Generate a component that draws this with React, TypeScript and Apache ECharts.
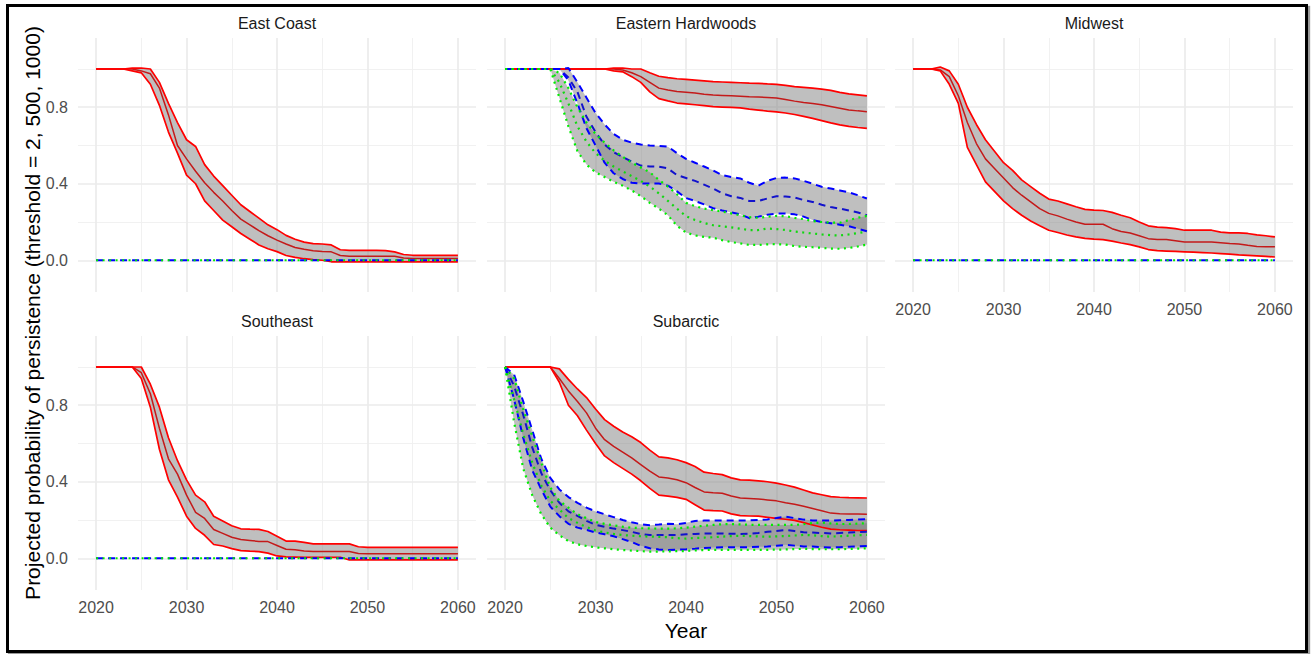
import React, { useEffect, useRef } from "react";
import * as echarts from "echarts";

// ---------- data ----------
const YEARS = [2020, 2021, 2022, 2023, 2024, 2025, 2026, 2027, 2028, 2029, 2030, 2031, 2032, 2033, 2034, 2035, 2036, 2037, 2038, 2039, 2040, 2041, 2042, 2043, 2044, 2045, 2046, 2047, 2048, 2049, 2050, 2051, 2052, 2053, 2054, 2055, 2056, 2057, 2058, 2059, 2060];

const X_LABELS = [2020, 2030, 2040, 2050, 2060];
const X_MINOR = [2025, 2035, 2045, 2055];
const Y_LABELS = [0, 0.4, 0.8];
const Y_MINOR = [0.2, 0.6, 1.0];

const ZERO_YEARS = [2020, 2060];
const ZERO_VALUES = [0, 0];

// East Coast
const EC_RED_UP = [1, 1, 1, 1, 1.005, 1.005, 1, 0.93, 0.82, 0.72, 0.63, 0.595, 0.5, 0.44, 0.39, 0.34, 0.29, 0.255, 0.22, 0.185, 0.16, 0.13, 0.11, 0.095, 0.087, 0.085, 0.08, 0.055, 0.052, 0.052, 0.052, 0.052, 0.05, 0.044, 0.03, 0.026, 0.026, 0.026, 0.026, 0.026, 0.026];
const EC_RED_MID = [1, 1, 1, 1, 1, 0.99, 0.975, 0.9, 0.76, 0.6, 0.53, 0.465, 0.405, 0.355, 0.31, 0.26, 0.215, 0.185, 0.155, 0.128, 0.105, 0.085, 0.067, 0.057, 0.05, 0.046, 0.044, 0.025, 0.021, 0.021, 0.021, 0.021, 0.021, 0.021, 0.012, 0.009, 0.009, 0.009, 0.009, 0.009, 0.009];
const EC_RED_LO = [1, 1, 1, 1, 0.99, 0.98, 0.92, 0.81, 0.67, 0.56, 0.445, 0.4, 0.31, 0.26, 0.21, 0.175, 0.14, 0.11, 0.08, 0.06, 0.045, 0.025, 0.015, 0.008, 0.003, 0, -0.008, -0.009, -0.009, -0.009, -0.009, -0.009, -0.009, -0.009, -0.009, -0.009, -0.009, -0.009, -0.009, -0.009, -0.009];

// Eastern Hardwoods
const EH_RED_UP = [1, 1, 1, 1, 1, 1, 1, 1, 1, 1, 1, 1, 1.005, 1.005, 1, 1, 0.98, 0.962, 0.955, 0.949, 0.946, 0.942, 0.938, 0.934, 0.932, 0.93, 0.928, 0.926, 0.925, 0.922, 0.92, 0.914, 0.908, 0.904, 0.9, 0.895, 0.888, 0.878, 0.87, 0.865, 0.859];
const EH_RED_MID = [1, 1, 1, 1, 1, 1, 1, 1, 1, 1, 1, 1, 1, 0.995, 0.98, 0.96, 0.93, 0.9, 0.89, 0.882, 0.878, 0.874, 0.868, 0.864, 0.862, 0.86, 0.858, 0.855, 0.853, 0.851, 0.848, 0.84, 0.832, 0.825, 0.82, 0.813, 0.804, 0.795, 0.786, 0.781, 0.777];
const EH_RED_LO = [1, 1, 1, 1, 1, 1, 1, 1, 1, 1, 1, 1, 0.99, 0.985, 0.96, 0.93, 0.88, 0.845, 0.833, 0.822, 0.818, 0.813, 0.808, 0.803, 0.801, 0.799, 0.797, 0.79, 0.785, 0.78, 0.776, 0.77, 0.762, 0.752, 0.742, 0.73, 0.718, 0.708, 0.7, 0.694, 0.689];
const EH_BLUE_UP = [1, 1, 1, 1, 1, 1, 1, 1.005, 0.93, 0.85, 0.77, 0.71, 0.66, 0.63, 0.615, 0.605, 0.6, 0.597, 0.594, 0.56, 0.53, 0.51, 0.49, 0.47, 0.445, 0.435, 0.428, 0.405, 0.39, 0.415, 0.43, 0.432, 0.428, 0.415, 0.4, 0.384, 0.375, 0.365, 0.355, 0.34, 0.323];
const EH_BLUE_MID = [1, 1, 1, 1, 1, 1, 1, 0.955, 0.88, 0.75, 0.67, 0.605, 0.565, 0.54, 0.515, 0.495, 0.49, 0.489, 0.48, 0.445, 0.43, 0.415, 0.395, 0.375, 0.35, 0.335, 0.326, 0.31, 0.31, 0.323, 0.335, 0.333, 0.328, 0.315, 0.305, 0.29, 0.278, 0.27, 0.26, 0.25, 0.236];
const EH_BLUE_LO = [1, 1, 1, 1, 1, 1, 1, 0.94, 0.82, 0.69, 0.6, 0.51, 0.455, 0.425, 0.405, 0.401, 0.401, 0.401, 0.39, 0.36, 0.325, 0.31, 0.292, 0.272, 0.26, 0.25, 0.24, 0.22, 0.228, 0.238, 0.244, 0.244, 0.24, 0.228, 0.21, 0.2, 0.194, 0.186, 0.178, 0.165, 0.152];
const EH_GREEN_UP = [1, 1, 1, 1, 1, 1, 0.98, 0.9, 0.8, 0.72, 0.66, 0.615, 0.575, 0.541, 0.51, 0.485, 0.46, 0.42, 0.385, 0.345, 0.3, 0.283, 0.27, 0.262, 0.255, 0.245, 0.235, 0.225, 0.222, 0.228, 0.232, 0.23, 0.222, 0.215, 0.205, 0.2, 0.197, 0.196, 0.21, 0.222, 0.232];
const EH_GREEN_MID = [1, 1, 1, 1, 1, 1, 0.93, 0.82, 0.7, 0.62, 0.56, 0.52, 0.49, 0.465, 0.44, 0.415, 0.385, 0.35, 0.31, 0.27, 0.23, 0.21, 0.195, 0.183, 0.178, 0.172, 0.165, 0.158, 0.158, 0.166, 0.163, 0.158, 0.15, 0.145, 0.14, 0.135, 0.131, 0.13, 0.135, 0.142, 0.15];
const EH_GREEN_LO = [1, 1, 1, 1, 1, 1, 0.85, 0.7, 0.57, 0.5, 0.46, 0.435, 0.41, 0.39, 0.365, 0.335, 0.3, 0.27, 0.235, 0.18, 0.145, 0.13, 0.122, 0.118, 0.105, 0.095, 0.088, 0.08, 0.08, 0.083, 0.084, 0.082, 0.074, 0.07, 0.068, 0.065, 0.061, 0.06, 0.064, 0.072, 0.082];

// Midwest
const MW_RED_UP = [1, 1, 1, 1.01, 0.99, 0.92, 0.8, 0.71, 0.63, 0.57, 0.51, 0.47, 0.42, 0.385, 0.35, 0.32, 0.31, 0.295, 0.28, 0.266, 0.262, 0.26, 0.25, 0.235, 0.222, 0.2, 0.18, 0.173, 0.171, 0.165, 0.157, 0.157, 0.157, 0.157, 0.147, 0.143, 0.143, 0.14, 0.133, 0.128, 0.122];
const MW_RED_MID = [1, 1, 1, 0.995, 0.96, 0.86, 0.72, 0.61, 0.53, 0.48, 0.43, 0.38, 0.34, 0.305, 0.27, 0.245, 0.232, 0.215, 0.2, 0.188, 0.188, 0.188, 0.165, 0.15, 0.142, 0.128, 0.113, 0.108, 0.108, 0.102, 0.096, 0.096, 0.096, 0.096, 0.092, 0.088, 0.085, 0.078, 0.072, 0.071, 0.07];
const MW_RED_LO = [1, 1, 1, 0.99, 0.92, 0.82, 0.59, 0.5, 0.41, 0.36, 0.31, 0.27, 0.235, 0.205, 0.18, 0.157, 0.145, 0.132, 0.122, 0.114, 0.11, 0.108, 0.1, 0.09, 0.082, 0.07, 0.056, 0.05, 0.048, 0.046, 0.044, 0.042, 0.04, 0.038, 0.035, 0.032, 0.028, 0.026, 0.023, 0.02, 0.017];

// Southeast
const SE_RED_UP = [1, 1, 1, 1, 1, 1, 0.91, 0.79, 0.63, 0.51, 0.41, 0.33, 0.295, 0.22, 0.195, 0.17, 0.154, 0.152, 0.151, 0.14, 0.115, 0.09, 0.09, 0.083, 0.075, 0.075, 0.075, 0.075, 0.075, 0.06, 0.057, 0.057, 0.057, 0.057, 0.057, 0.057, 0.057, 0.057, 0.057, 0.057, 0.057];
const SE_RED_MID = [1, 1, 1, 1, 1, 0.97, 0.86, 0.68, 0.52, 0.44, 0.33, 0.24, 0.208, 0.15, 0.13, 0.11, 0.098, 0.093, 0.088, 0.087, 0.067, 0.047, 0.044, 0.038, 0.035, 0.035, 0.035, 0.035, 0.035, 0.025, 0.023, 0.023, 0.023, 0.023, 0.023, 0.023, 0.023, 0.023, 0.023, 0.023, 0.023];
const SE_RED_LO = [1, 1, 1, 1, 1, 0.94, 0.79, 0.57, 0.41, 0.32, 0.22, 0.156, 0.12, 0.072, 0.064, 0.05, 0.04, 0.037, 0.035, 0.027, 0.012, 0.007, 0.006, 0.005, 0.005, 0.005, 0.005, 0.005, -0.009, -0.009, -0.009, -0.009, -0.009, -0.009, -0.009, -0.009, -0.009, -0.009, -0.009, -0.009, -0.009];

// Subarctic
const SA_RED_UP = [1, 1, 1, 1, 1, 1, 0.99, 0.935, 0.885, 0.84, 0.78, 0.725, 0.69, 0.66, 0.635, 0.605, 0.565, 0.53, 0.525, 0.515, 0.5, 0.48, 0.45, 0.443, 0.437, 0.42, 0.41, 0.408, 0.405, 0.4, 0.393, 0.383, 0.372, 0.357, 0.342, 0.332, 0.322, 0.319, 0.317, 0.316, 0.315];
const SA_RED_MID = [1, 1, 1, 1, 1, 1, 0.94, 0.875, 0.82, 0.76, 0.68, 0.62, 0.585, 0.555, 0.525, 0.49, 0.455, 0.425, 0.42, 0.41, 0.395, 0.37, 0.347, 0.343, 0.34, 0.325, 0.315, 0.313, 0.31, 0.305, 0.3, 0.29, 0.282, 0.272, 0.26, 0.248, 0.236, 0.233, 0.232, 0.231, 0.23];
const SA_RED_LO = [1, 1, 1, 1, 1, 1, 0.92, 0.8, 0.745, 0.67, 0.6, 0.535, 0.5, 0.47, 0.44, 0.405, 0.365, 0.33, 0.325, 0.318, 0.308, 0.28, 0.252, 0.249, 0.247, 0.232, 0.223, 0.221, 0.22, 0.214, 0.208, 0.204, 0.198, 0.186, 0.174, 0.162, 0.152, 0.149, 0.147, 0.145, 0.144];
const SA_BLUE_UP = [1, 0.96, 0.82, 0.67, 0.52, 0.42, 0.36, 0.32, 0.29, 0.265, 0.245, 0.23, 0.215, 0.2, 0.188, 0.178, 0.173, 0.176, 0.18, 0.178, 0.185, 0.195, 0.197, 0.197, 0.197, 0.197, 0.197, 0.198, 0.2, 0.203, 0.21, 0.218, 0.21, 0.202, 0.198, 0.197, 0.197, 0.199, 0.2, 0.202, 0.205];
const SA_BLUE_MID = [1, 0.9, 0.75, 0.58, 0.445, 0.355, 0.29, 0.245, 0.222, 0.195, 0.175, 0.165, 0.155, 0.147, 0.138, 0.127, 0.121, 0.121, 0.121, 0.122, 0.125, 0.127, 0.129, 0.13, 0.13, 0.128, 0.127, 0.128, 0.132, 0.138, 0.143, 0.148, 0.142, 0.136, 0.134, 0.132, 0.13, 0.132, 0.134, 0.137, 0.139];
const SA_BLUE_LO = [1, 0.83, 0.63, 0.46, 0.36, 0.27, 0.22, 0.18, 0.16, 0.148, 0.135, 0.125, 0.115, 0.1, 0.085, 0.065, 0.052, 0.046, 0.043, 0.045, 0.047, 0.05, 0.054, 0.056, 0.057, 0.057, 0.057, 0.058, 0.06, 0.061, 0.065, 0.07, 0.066, 0.062, 0.061, 0.058, 0.056, 0.058, 0.06, 0.062, 0.064];
const SA_GREEN_UP = [1, 0.94, 0.78, 0.64, 0.5, 0.37, 0.3, 0.265, 0.23, 0.21, 0.19, 0.18, 0.172, 0.165, 0.16, 0.157, 0.156, 0.155, 0.155, 0.156, 0.16, 0.165, 0.17, 0.174, 0.178, 0.179, 0.177, 0.175, 0.174, 0.174, 0.174, 0.174, 0.174, 0.178, 0.184, 0.186, 0.182, 0.179, 0.179, 0.181, 0.183];
const SA_GREEN_MID = [1, 0.83, 0.65, 0.5, 0.38, 0.3, 0.255, 0.21, 0.185, 0.163, 0.145, 0.135, 0.127, 0.121, 0.118, 0.115, 0.113, 0.112, 0.11, 0.105, 0.103, 0.106, 0.108, 0.11, 0.113, 0.116, 0.117, 0.116, 0.114, 0.113, 0.114, 0.116, 0.119, 0.122, 0.12, 0.116, 0.113, 0.115, 0.118, 0.12, 0.122];
const SA_GREEN_LO = [1, 0.71, 0.47, 0.33, 0.23, 0.16, 0.12, 0.09, 0.073, 0.064, 0.057, 0.052, 0.047, 0.043, 0.04, 0.037, 0.035, 0.035, 0.036, 0.037, 0.038, 0.041, 0.043, 0.044, 0.044, 0.044, 0.044, 0.044, 0.044, 0.044, 0.045, 0.046, 0.048, 0.049, 0.048, 0.047, 0.047, 0.047, 0.049, 0.05, 0.052];

// ---------- layout & style ----------
const FONT = "'Liberation Sans', Arial, sans-serif";
const W = 1311;
const H = 654;
const COL_LEFT = [78, 487, 895];
const ROW_TOP = [38, 336];
const PW = 398;
const PH = 254;
const X_MIN = 2018;
const X_MAX = 2062;
const Y_MIN = -0.166;
const Y_MAX = 1.162;

type Band = [number[], number[], number[]] | null;
interface Panel {
  title: string;
  col: number;
  row: number;
  showX: boolean;
  showY: boolean;
  red: Band;
  blue: Band;
  green: Band;
}

const PANELS: Panel[] = [
  { title: "East Coast", col: 0, row: 0, showX: false, showY: true, red: [EC_RED_UP, EC_RED_MID, EC_RED_LO], blue: null, green: null },
  { title: "Eastern Hardwoods", col: 1, row: 0, showX: false, showY: false, red: [EH_RED_UP, EH_RED_MID, EH_RED_LO], blue: [EH_BLUE_UP, EH_BLUE_MID, EH_BLUE_LO], green: [EH_GREEN_UP, EH_GREEN_MID, EH_GREEN_LO] },
  { title: "Midwest", col: 2, row: 0, showX: true, showY: false, red: [MW_RED_UP, MW_RED_MID, MW_RED_LO], blue: null, green: null },
  { title: "Southeast", col: 0, row: 1, showX: true, showY: true, red: [SE_RED_UP, SE_RED_MID, SE_RED_LO], blue: null, green: null },
  { title: "Subarctic", col: 1, row: 1, showX: true, showY: false, red: [SA_RED_UP, SA_RED_MID, SA_RED_LO], blue: [SA_BLUE_UP, SA_BLUE_MID, SA_BLUE_LO], green: [SA_GREEN_UP, SA_GREEN_MID, SA_GREEN_LO] },
];

const STYLES = {
  red: { color: "#ff0000", mid: "#c41a1a", type: "solid" as any, width: 1.7, midWidth: 1.5 },
  blue: { color: "#0000ff", mid: "#1212cc", type: [7, 5] as any, width: 2, midWidth: 2 },
  green: { color: "#00ee00", mid: "#10d810", type: [2, 4.5] as any, width: 2.2, midWidth: 2.2 },
};

const RIBBON_FILL = "rgba(127,127,127,0.5)";

function pairs(xs: number[], ys: number[]) {
  return xs.map((x, k) => [x, ys[k]]);
}

function buildOption() {
  const grid: any[] = [];
  const xAxis: any[] = [];
  const yAxis: any[] = [];
  const series: any[] = [];
  const graphic: any[] = [];

  PANELS.forEach((p, i) => {
    const left = COL_LEFT[p.col];
    const top = ROW_TOP[p.row];
    grid.push({ left, top, width: PW, height: PH, containLabel: false });
    xAxis.push({
      type: "value",
      gridIndex: i,
      min: X_MIN,
      max: X_MAX,
      axisLine: { show: false },
      axisTick: { show: false },
      splitLine: { show: false },
      axisLabel: {
        show: p.showX,
        customValues: X_LABELS,
        color: "#4d4d4d",
        fontSize: 16,
        fontFamily: FONT,
        margin: 9,
        formatter: (v: number) => String(v),
      },
    });
    yAxis.push({
      type: "value",
      gridIndex: i,
      min: Y_MIN,
      max: Y_MAX,
      axisLine: { show: false },
      axisTick: { show: false },
      splitLine: { show: false },
      axisLabel: {
        show: p.showY,
        customValues: Y_LABELS,
        color: "#4d4d4d",
        fontSize: 16,
        fontFamily: FONT,
        margin: 10,
        formatter: (v: number) => v.toFixed(1),
      },
    });

    // grid lines via markLine (kept beneath the data)
    const major = { color: "#ebebeb", width: 1.7, type: "solid" };
    const minor = { color: "#efefef", width: 0.9, type: "solid" };
    series.push({
      type: "line",
      xAxisIndex: i,
      yAxisIndex: i,
      data: [],
      silent: true,
      z: 0,
      markLine: {
        z: 0,
        silent: true,
        symbol: ["none", "none"],
        label: { show: false },
        emphasis: { disabled: true },
        data: [
          ...Y_MINOR.map((v) => ({ yAxis: v, lineStyle: minor })),
          ...X_MINOR.map((v) => ({ xAxis: v, lineStyle: minor })),
          ...Y_LABELS.map((v) => ({ yAxis: v, lineStyle: major })),
          ...X_LABELS.map((v) => ({ xAxis: v, lineStyle: major })),
        ],
      },
    });

    const bands: [Band, any][] = [
      [p.red, STYLES.red],
      [p.blue, STYLES.blue],
      [p.green, STYLES.green],
    ];

    // ribbons
    bands.forEach(([b]) => {
      if (!b) return;
      const [up, , lo] = b;
      series.push({
        type: "custom",
        xAxisIndex: i,
        yAxisIndex: i,
        silent: true,
        z: 10,
        data: [[YEARS[0], lo[0]]],
        renderItem: (_params: any, api: any) => {
          const pts: number[][] = [];
          for (let k = 0; k < YEARS.length; k++) pts.push(api.coord([YEARS[k], up[k]]));
          for (let k = YEARS.length - 1; k >= 0; k--) pts.push(api.coord([YEARS[k], lo[k]]));
          return { type: "polygon", shape: { points: pts }, style: { fill: RIBBON_FILL } };
        },
      });
    });

    // lines
    bands.forEach(([b, st], bi) => {
      if (!b) {
        if (bi === 0) return;
        series.push({
          type: "line",
          xAxisIndex: i,
          yAxisIndex: i,
          data: pairs(ZERO_YEARS, ZERO_VALUES),
          showSymbol: false,
          symbol: "none",
          silent: true,
          z: 11 + bi,
          lineStyle: { color: st.color, width: st.width, type: st.type },
        });
        return;
      }
      const [up, mid, lo] = b;
      series.push({
        type: "line",
        xAxisIndex: i,
        yAxisIndex: i,
        data: pairs(YEARS, mid),
        showSymbol: false,
        symbol: "none",
        silent: true,
        z: 11 + bi,
        lineStyle: { color: st.mid, width: st.midWidth, type: st.type },
      });
      [up, lo].forEach((arr) => {
        series.push({
          type: "line",
          xAxisIndex: i,
          yAxisIndex: i,
          data: pairs(YEARS, arr),
          showSymbol: false,
          symbol: "none",
          silent: true,
          z: 11 + bi,
          lineStyle: { color: st.color, width: st.width, type: st.type },
        });
      });
    });

    // strip title
    graphic.push({
      type: "text",
      x: left + PW / 2,
      y: top - 15,
      silent: true,
      style: {
        text: p.title,
        fill: "#1a1a1a",
        font: `16px ${FONT}`,
        textAlign: "center",
        textVerticalAlign: "middle",
      },
    });
  });

  graphic.push({
    type: "text",
    x: 686,
    y: 630,
    silent: true,
    style: {
      text: "Year",
      fill: "#000000",
      font: `21px ${FONT}`,
      textAlign: "center",
      textVerticalAlign: "middle",
    },
  });
  graphic.push({
    type: "text",
    x: 32,
    y: 313,
    rotation: Math.PI / 2,
    silent: true,
    style: {
      text: "Projected probability of persistence (threshold = 2, 500, 1000)",
      fill: "#000000",
      font: `21px ${FONT}`,
      textAlign: "center",
      textVerticalAlign: "middle",
    },
  });

  return {
    animation: false,
    backgroundColor: "#ffffff",
    textStyle: { fontFamily: FONT },
    grid,
    xAxis,
    yAxis,
    series,
    graphic,
  };
}

export default function App() {
  const ref = useRef<HTMLDivElement>(null);
  useEffect(() => {
    if (!ref.current) return;
    const chart = echarts.init(ref.current, undefined, { renderer: "svg", width: W, height: H });
    chart.setOption(buildOption() as any);
    return () => chart.dispose();
  }, []);
  return (
    <div style={{ position: "fixed", left: 0, top: 0, width: W, height: H, background: "#ffffff", overflow: "hidden" }}>
      <div ref={ref} style={{ position: "absolute", left: 0, top: 0, width: W, height: H }} />
      <div
        style={{
          position: "absolute",
          left: 6,
          top: 4,
          width: 1302,
          height: 649,
          boxSizing: "border-box",
          border: "3px solid #000000",
          boxShadow: "2px 2px 1px #9a9a9a",
          pointerEvents: "none",
        }}
      />
    </div>
  );
}
